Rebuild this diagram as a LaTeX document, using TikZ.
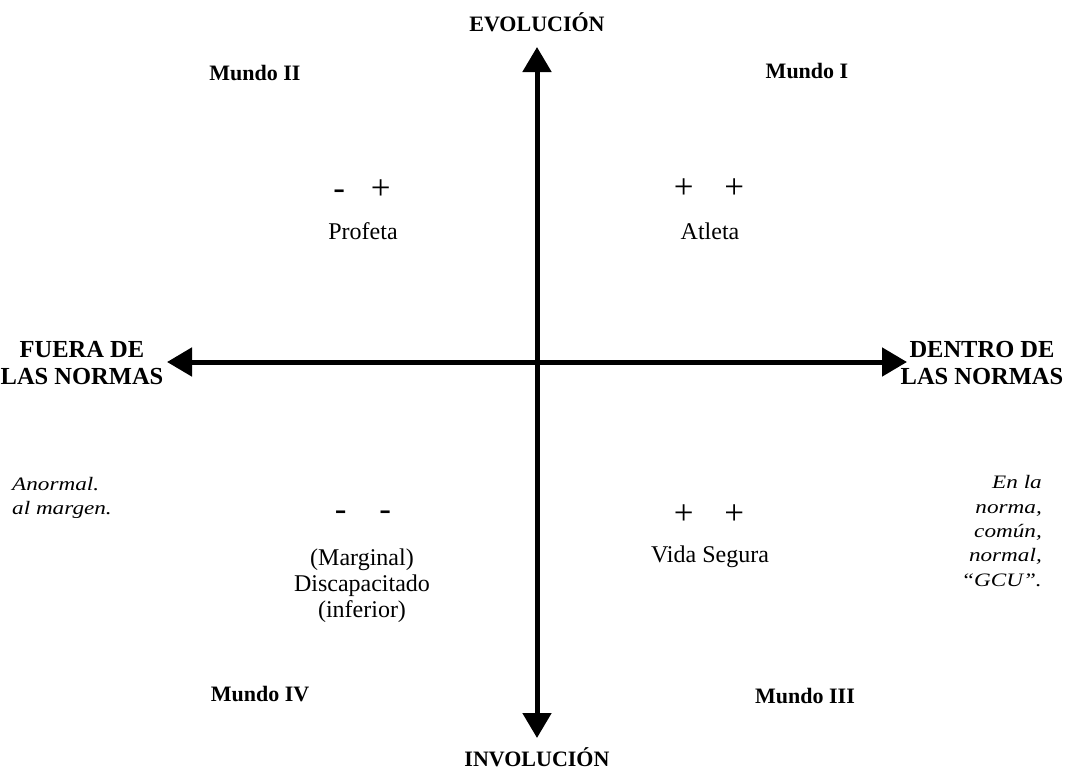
\documentclass[tikz,border=0pt]{standalone}
\usepackage{fontspec}
\setmainfont{Liberation Serif}
\newfontfamily\itfont[FakeStretch=1.22]{Liberation Serif Italic}
\usetikzlibrary{arrows.meta}
\tikzset{
  axis/.style={line width=5pt, -{Triangle[length=25pt,width=28pt]}},
  boldlbl/.style={font=\fontsize{22}{26}\selectfont\bfseries, align=center, inner sep=0pt},
  sidelbl/.style={font=\fontsize{24.5}{27}\selectfont\bfseries, align=center, inner sep=0pt},
  reglbl/.style={font=\fontsize{24}{26}\selectfont, align=center, inner sep=0pt},
  signlbl/.style={font=\fontsize{35}{36}\selectfont, inner sep=0pt},
  itlbl/.style={font=\fontsize{19}{24.4}\itfont, inner sep=0pt}
}
\begin{document}
\begin{tikzpicture}[x=1pt,y=-1pt]
\useasboundingbox (0,0) rectangle (1069,771);
\coordinate (c) at (537,362);
\coordinate (top) at (537,47);
\coordinate (bot) at (537,738);
\coordinate (lft) at (167,362);
\coordinate (rgt) at (907,362);
\draw[axis] (c) -- (top);
\draw[axis] (c) -- (bot);
\draw[axis] (c) -- (lft);
\draw[axis] (c) -- (rgt);

\node[boldlbl] (evo) at (537,22) {EVOLUCIÓN};
\node[boldlbl] (invo) at (537,757) {INVOLUCIÓN};
\node[boldlbl] (m2) at (255,73) {Mundo II};
\node[boldlbl] (m1) at (807,71) {Mundo I};
\node[boldlbl] (m4) at (260,694) {Mundo IV};
\node[boldlbl] (m3) at (805,696) {Mundo III};
\node[sidelbl] (fuera) at (82,363) {FUERA DE\\LAS NORMAS};
\node[sidelbl] (dentro) at (982,363) {DENTRO DE\\LAS NORMAS};

\node[signlbl] (s2) at (362,190) {-\hspace{26pt}+};
\node[reglbl] (prof) at (363,231) {Profeta};
\node[signlbl] (s1) at (709,189) {+\hspace{31pt}+};
\node[reglbl] (atl) at (710,231) {Atleta};
\node[signlbl] (s4) at (363,516) {-\hspace{33pt}-};
\node[reglbl] (disc) at (362,586) {(Marginal)\\Discapacitado\\(inferior)};
\node[signlbl] (s3) at (709,515) {+\hspace{31pt}+};
\node[reglbl] (vida) at (710,557) {Vida Segura};

\node[itlbl, anchor=west, align=left] (anor) at (12,498) {Anormal.\\al margen.};
\node[itlbl, anchor=east, align=right] (enla) at (1042,531) {En la\\norma,\\común,\\normal,\\“GCU”.};
\end{tikzpicture}
\end{document}
